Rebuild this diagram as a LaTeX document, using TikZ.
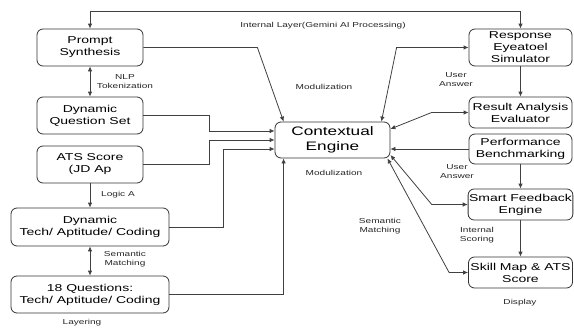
\documentclass[tikz,border=0pt]{standalone}
\usepackage{fontspec}
\setmainfont{Liberation Sans}[FakeStretch=1.4]
\usetikzlibrary{arrows.meta,calc}

\tikzset{
  box/.style={draw=black!80, line width=0.8pt, rounded corners=6pt, align=center,
    inner sep=1pt, font=\fontsize{10}{12}\selectfont, text=black},
  lbl/.style={align=center, font=\fontsize{7.2}{9}\selectfont, text=black!85, inner sep=0pt},
  wire/.style={draw=black!75, line width=0.8pt},
  tip/.style={wire, -{Latex[length=5pt,width=4.5pt]}},
  both/.style={wire, {Latex[length=5pt,width=4.5pt]}-{Latex[length=5pt,width=4.5pt]}},
}

\begin{document}
\begin{tikzpicture}[x=1pt, y=-1pt]
\path[use as bounding box] (0,0) rectangle (574,330);

% left column
\node[box, minimum width=106pt, minimum height=37pt] (prompt) at (90,47.5) {Prompt\\Synthesis};
\node[box, minimum width=106pt, minimum height=37pt] (dqs) at (90,115.5) {Dynamic\\Question Set};
\node[box, minimum width=106pt, minimum height=37pt] (ats) at (90,164.5) {ATS Score\\(JD Ap};
\node[box, minimum width=158pt, minimum height=38pt] (dyn) at (90,227) {Dynamic\\Tech/ Aptitude/ Coding};
\node[box, minimum width=158pt, minimum height=37pt] (q18) at (90,294.5) {18 Questions:\\Tech/ Aptitude/ Coding};

% centre
\node[box, minimum width=115pt, minimum height=36pt, font=\fontsize{12.3}{15}\selectfont] (ce) at (332.5,140) {Contextual\\Engine};

% right column
\node[box, minimum width=103pt, minimum height=37pt] (resp) at (520.5,47.5) {Response\\Eyeatoel\\Simulator};
\node[box, minimum width=103pt, minimum height=31pt] (res) at (520.5,112.5) {Result Analysis\\Evaluator};
\node[box, minimum width=103pt, minimum height=30pt] (perf) at (520.5,149) {Performance\\Benchmarking};
\node[box, minimum width=104pt, minimum height=31pt] (smart) at (520.5,204.5) {Smart Feedback\\Engine};
\node[box, minimum width=104pt, minimum height=31pt] (skill) at (520.5,272.5) {Skill Map \& ATS\\Score};

% labels
\node[lbl] (lLayer) at (323,26) {Internal Layer(Gemini AI Processing)};
\node[lbl] (lNlp) at (125,82) {NLP\\Tokenization};
\node[lbl] (lMod1) at (324,87) {Modulization};
\node[lbl] (lMod2) at (334,173) {Modulization};
\node[lbl] (lUser1) at (456,80) {User\\Answer};
\node[lbl] (lUser2) at (457,172) {User\\Answer};
\node[lbl] (lLogic) at (118,195) {Logic A};
\node[lbl] (lSem1) at (125,259) {Semantic\\Matching};
\node[lbl] (lSem2) at (380,226) {Semantic\\Matching};
\node[lbl] (lScore) at (477,235) {Internal\\Scoring};
\node[lbl] (lDisp) at (520,303) {Display};
\node[lbl] (lLayering) at (82,323) {Layering};

% top loop
\coordinate (topy) at (0,11);
\draw[both] (prompt.north) -- (prompt.north |- topy) -| (resp.north);

% left column links
\draw[both] (prompt.south) -- (dqs.north);
\draw[tip] (ats.south) -- (dyn.north);
\draw[both] (dyn.south) -- (q18.north);

% into the engine from the left
\draw[tip] (prompt.east) -- ++(114,0) -- ([xshift=9pt]ce.north west);
\draw[tip] (dqs.east) -- ++(66,0) |- ([yshift=9pt]ce.west);
\draw[tip] (ats.east) -- ++(66,0) |- (ce.west);
\draw[tip] (dyn.east) -- ++(54,0) |- ([yshift=-9pt]ce.west);
\draw[tip] (q18.east) -| ([xshift=9pt]ce.south west);

% right column links
\draw[tip] (resp.south) -- (res.north);
\draw[tip] (perf.south) -- (smart.north);
\draw[tip] (smart.south) -- (skill.north);

% engine to the right column
\draw[both] (resp.west) -- ++(-72,0) -- ([xshift=-9pt]ce.north east);
\draw[both] (res.west) -- ++(-37,0) -- ([yshift=11pt]ce.east);
\draw[tip] (perf.west) -- (perf.west -| ce.east);
\draw[both] (smart.west) -- ++(-36,0) -- ([yshift=-15pt]ce.east);
\draw[both] (skill.west) -- ++(-19,0) -- ([xshift=-3pt]ce.south east);
\end{tikzpicture}
\end{document}
